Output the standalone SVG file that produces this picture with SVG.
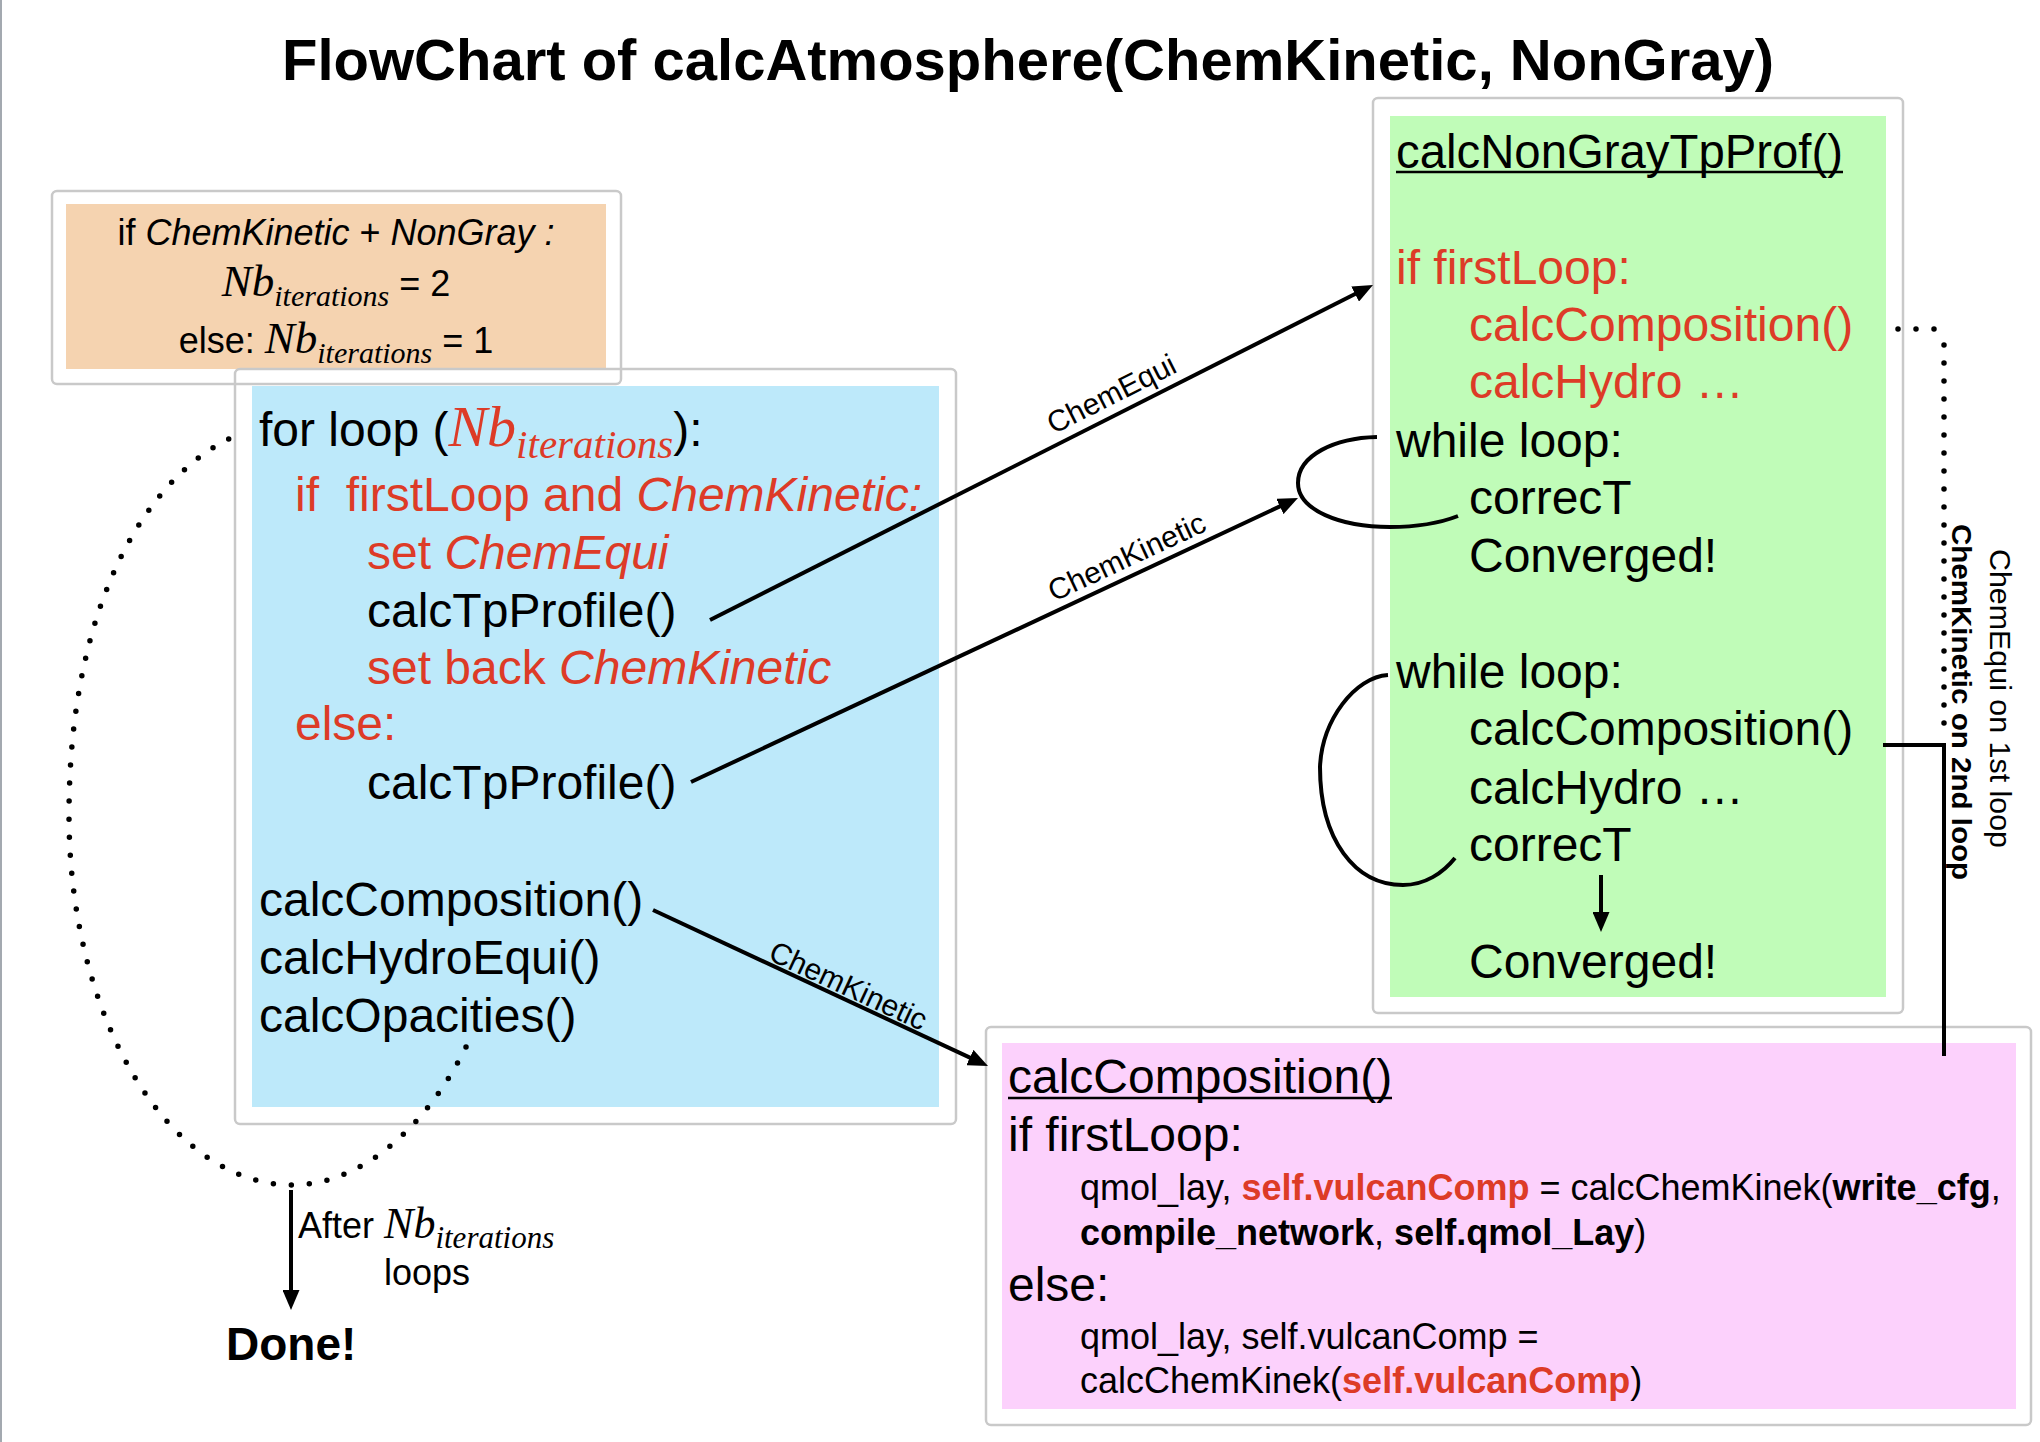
<svg xmlns="http://www.w3.org/2000/svg" width="2040" height="1442" viewBox="0 0 2040 1442">
<defs>
<style>
text{font-family:"Liberation Sans",Arial,sans-serif;fill:#000}
.t48{font-size:48px}
.t36{font-size:36px}
.t30{font-size:30px}
.red{fill:#dd3b27}
.it{font-style:italic}
.b{font-weight:bold}
.nb{font-family:"Liberation Serif","Times New Roman",serif;font-style:italic}
.frame{fill:#fff;stroke:#c9c9c9;stroke-width:2.5}
.frameo{fill:none;stroke:#c9c9c9;stroke-width:2.5}
.ln{fill:none;stroke:#000;stroke-width:4}
.dot{fill:none;stroke:#000;stroke-width:5.5;stroke-linecap:round;stroke-dasharray:0 18}
.ul{stroke:#000;stroke-width:2.5}
</style>
<marker id="ah" markerWidth="20" markerHeight="17" refX="6" refY="8.5" orient="auto" markerUnits="userSpaceOnUse">
<path d="M0,0 L20,8.5 L0,17 z" fill="#000"/>
</marker>
</defs>
<rect x="0" y="0" width="2040" height="1442" fill="#fff"/>
<line x1="1" y1="0" x2="1" y2="1442" stroke="#a3a9b0" stroke-width="2"/>

<text id="title" x="282" y="80" font-size="58" font-weight="bold">FlowChart of calcAtmosphere(ChemKinetic, NonGray)</text>

<g id="node-iterations">
<rect class="frame" x="52" y="191" width="569" height="193" rx="5"/>
<rect x="66" y="204" width="540" height="165" fill="#f5d3b0"/>
<text class="t36" x="336" y="245" text-anchor="middle">if <tspan class="it">ChemKinetic</tspan> + <tspan class="it">NonGray :</tspan></text>
<text class="t36" x="336" y="296" text-anchor="middle"><tspan class="nb" font-size="45">Nb</tspan><tspan class="nb" font-size="30" dy="10">iterations</tspan><tspan dy="-10"> = 2</tspan></text>
<text class="t36" x="336" y="353" text-anchor="middle">else: <tspan class="nb" font-size="45">Nb</tspan><tspan class="nb" font-size="30" dy="10">iterations</tspan><tspan dy="-10"> = 1</tspan></text>
</g>

<g id="node-forloop">
<rect class="frameo" x="235" y="369" width="721" height="755" rx="5"/>
<rect x="252" y="386" width="687" height="721" fill="#bde9fa"/>
<text class="t48" x="259" y="446">for loop (<tspan class="nb red" font-size="58">Nb</tspan><tspan class="nb red" font-size="41" dy="12">iterations</tspan><tspan dy="-12">):</tspan></text>
<text class="t48 red" x="295" y="511">if&#160; firstLoop and <tspan class="it">ChemKinetic:</tspan></text>
<text class="t48 red" x="367" y="569">set <tspan class="it">ChemEqui</tspan></text>
<text class="t48" x="367" y="627">calcTpProfile()</text>
<text class="t48 red" x="367" y="684">set back <tspan class="it">ChemKinetic</tspan></text>
<text class="t48 red" x="295" y="740">else:</text>
<text class="t48" x="367" y="799">calcTpProfile()</text>
<text class="t48" x="259" y="916">calcComposition()</text>
<text class="t48" x="259" y="974">calcHydroEqui()</text>
<text class="t48" x="259" y="1032">calcOpacities()</text>
</g>

<g id="node-nongray">
<rect class="frame" x="1373" y="98" width="530" height="915" rx="5"/>
<rect x="1390" y="116" width="496" height="881" fill="#c0fcb8"/>
<text class="t48" x="1396" y="168" textLength="447" lengthAdjust="spacingAndGlyphs">calcNonGrayTpProf()</text>
<line class="ul" x1="1396" y1="172" x2="1843" y2="172"/>
<text class="t48 red" x="1396" y="284">if firstLoop:</text>
<text class="t48 red" x="1469" y="341">calcComposition()</text>
<text class="t48 red" x="1469" y="398">calcHydro …</text>
<text class="t48" x="1396" y="457">while loop:</text>
<text class="t48" x="1469" y="514">correcT</text>
<text class="t48" x="1469" y="572">Converged!</text>
<text class="t48" x="1396" y="688">while loop:</text>
<text class="t48" x="1469" y="745">calcComposition()</text>
<text class="t48" x="1469" y="804">calcHydro …</text>
<text class="t48" x="1469" y="861">correcT</text>
<text class="t48" x="1469" y="978">Converged!</text>
</g>

<g id="node-calccomposition">
<rect class="frame" x="986" y="1027" width="1045" height="398" rx="5"/>
<rect x="1002" y="1043" width="1014" height="366" fill="#fcd1fc"/>
<text class="t48" x="1008" y="1093">calcComposition()</text>
<line class="ul" x1="1008" y1="1098" x2="1392" y2="1098"/>
<text class="t48" x="1008" y="1151">if firstLoop:</text>
<text class="t36" x="1080" y="1200">qmol_lay, <tspan class="b red">self.vulcanComp</tspan> = calcChemKinek(<tspan class="b">write_cfg</tspan>,</text>
<text class="t36" x="1080" y="1245"><tspan class="b">compile_network</tspan>, <tspan class="b">self.qmol_Lay</tspan>)</text>
<text class="t48" x="1008" y="1301">else:</text>
<text class="t36" x="1080" y="1349">qmol_lay, self.vulcanComp =</text>
<text class="t36" x="1080" y="1393">calcChemKinek(<tspan class="b red">self.vulcanComp</tspan>)</text>
</g>

<g id="node-done">
<text x="226" y="1360" font-size="46" font-weight="bold">Done!</text>
</g>

<g id="connectors">
<path class="ln" d="M710,620 L1360.5,291.3" marker-end="url(#ah)"/>
<text class="t30" transform="translate(1116,403) rotate(-26.8)" text-anchor="middle">ChemEqui</text>
<path class="ln" d="M691,782 L1285.3,503.9" marker-end="url(#ah)"/>
<text class="t30" transform="translate(1131,566) rotate(-25)" text-anchor="middle">ChemKinetic</text>
<path class="ln" d="M653,910 L975.3,1060.1" marker-end="url(#ah)"/>
<text class="t30" transform="translate(844,995) rotate(25)" text-anchor="middle">ChemKinetic</text>
<path class="ln" d="M1377,437 C1335,438 1298,455 1298,483 C1298,510 1340,527 1390,527 C1415,527 1440,523 1458,516"/>
<path class="ln" d="M1388,675 C1355,677 1322,720 1320,767 C1320,840 1355,885 1403,885 C1425,885 1443,873 1455,858"/>
<path class="ln" stroke-width="3" d="M1601,875 L1601,918" marker-end="url(#ah)"/>
<path class="ln" d="M1883,745 L1944,745 L1944,1056"/>
<path class="dot" d="M1898,329 L1936,329"/>
<path class="dot" d="M1944,345 L1944,725"/>
<path class="dot" d="M466,1047 C426,1127 362,1185 292,1185 C169,1185 69,1019 69,815 C69,600 150,470 240,434"/>
<path class="ln" d="M291,1190 L291,1296" marker-end="url(#ah)"/>
<text class="t36" x="298" y="1238">After <tspan class="nb" font-size="44">Nb</tspan><tspan class="nb" font-size="31" dy="10">iterations</tspan></text>
<text class="t36" x="384" y="1285">loops</text>
<text font-size="29" textLength="299" lengthAdjust="spacingAndGlyphs" transform="translate(1990,549) rotate(90)">ChemEqui on 1st loop</text>
<text font-size="28" font-weight="bold" textLength="356" lengthAdjust="spacingAndGlyphs" transform="translate(1952,524) rotate(90)">ChemKinetic on 2nd loop</text>
</g>
</svg>
